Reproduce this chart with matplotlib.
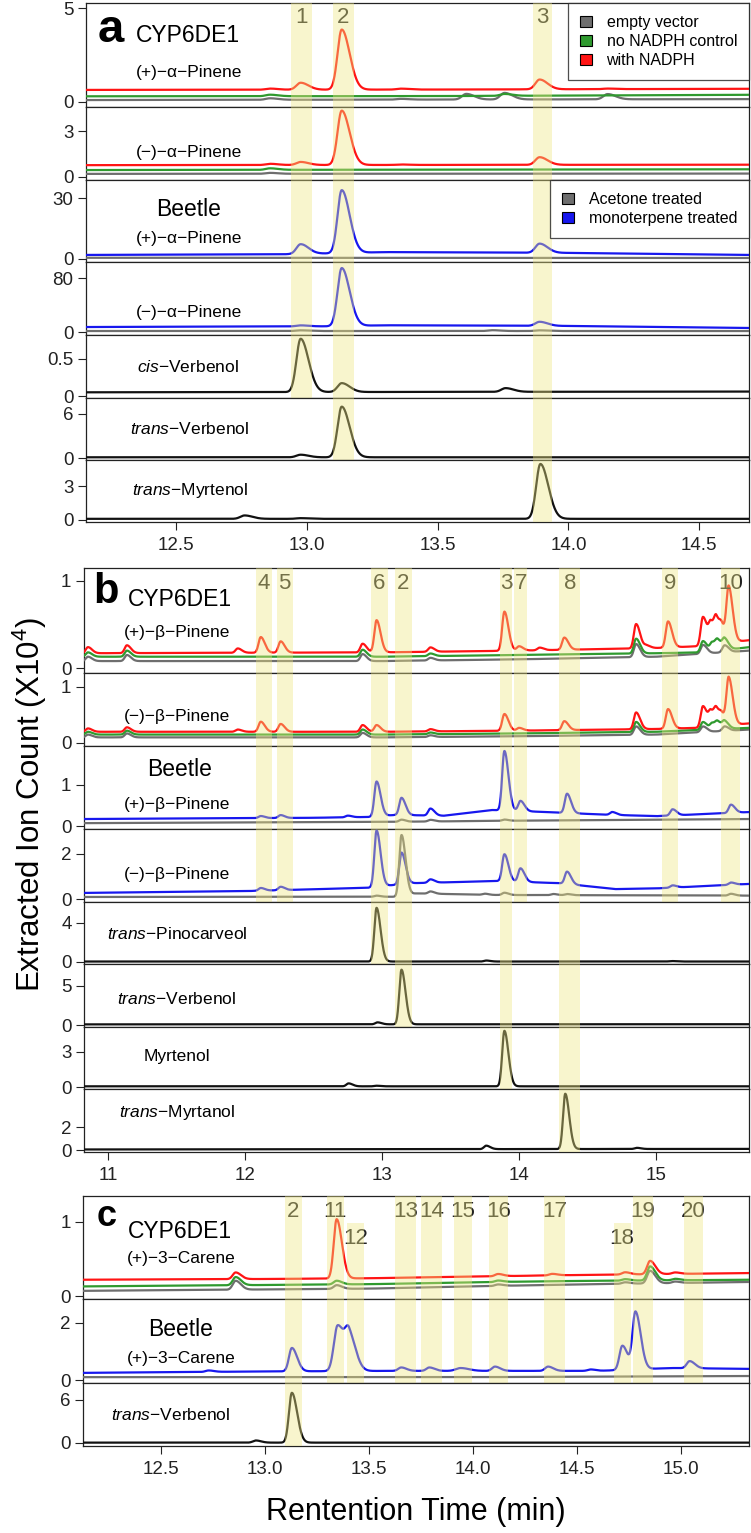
import numpy as np
import matplotlib
matplotlib.use("Agg")
import matplotlib.pyplot as plt
from matplotlib.patches import Rectangle

plt.rcParams['font.family'] = ['Liberation Sans', 'DejaVu Sans']
plt.rcParams['mathtext.fontset'] = 'custom'
plt.rcParams['mathtext.rm'] = 'Liberation Sans'
plt.rcParams['mathtext.it'] = 'Liberation Sans:italic'

W, H = 751, 1533

RED = '#ff1414'
GREEN = '#2f9a2f'
GRAY = '#6e6e6e'
BLUE = '#1717ee'
BLACK = '#111111'
BAND = '#eee682'

# ---------------- panel a : alpha-pinene ----------------
# baseline knots (rt, level) and peaks (rt, height above baseline[, width factor])
a1_red_base = [(12.157, 0.64), (13.5, 0.66), (14.69, 0.70)]
a1_red_peaks = [(12.86, 0.06), (12.977, 0.37), (13.134, 3.2), (13.36, 0.05), (13.89, 0.52), (14.15, 0.03)]
a1_green_base = [(12.157, 0.30), (13.5, 0.31), (14.69, 0.38)]
a1_green_peaks = [(12.86, 0.08), (13.756, 0.10)]
a1_gray_base = [(12.157, 0.10), (14.69, 0.15)]
a1_gray_peaks = [(12.86, 0.08), (13.36, 0.04), (13.61, 0.30), (13.756, 0.35), (14.15, 0.28)]

a2_red_base = [(12.157, 0.77), (14.69, 0.80)]
a2_red_peaks = [(12.86, 0.08), (12.977, 0.20), (13.134, 3.55), (13.36, 0.03), (13.89, 0.50)]
a2_green_base = [(12.157, 0.45), (14.69, 0.50)]
a2_green_peaks = [(12.86, 0.10)]
a2_gray_base = [(12.157, 0.20), (14.69, 0.22)]
a2_gray_peaks = [(12.86, 0.06)]

a3_blue_base = [(12.157, 2.0), (12.9, 2.3), (13.1, 2.8), (13.3, 3.4), (14.0, 3.0), (14.69, 2.0)]
a3_blue_peaks = [(12.977, 4.8), (13.134, 31.0), (13.89, 4.5)]
a3_gray_base = [(12.157, 0.6), (14.69, 0.5)]
a3_gray_peaks = []

a4_blue_base = [(12.157, 7.4), (13.1, 8.5), (13.3, 10.0), (14.0, 9.0), (14.69, 6.0)]
a4_blue_peaks = [(12.977, 1.5), (13.134, 86.0), (13.89, 6.0)]
a4_gray_base = [(12.157, 1.5), (14.69, 1.5)]
a4_gray_peaks = [(12.977, 1.0), (13.71, 1.2), (13.89, 1.0)]

a5_base = [(12.157, 0.05), (14.69, 0.06)]
a5_peaks = [(12.977, 0.72), (13.134, 0.12), (13.76, 0.05)]
a6_base = [(12.157, 0.10), (14.69, 0.10)]
a6_peaks = [(12.977, 0.35), (13.134, 6.9)]
a7_base = [(12.157, 0.10), (14.69, 0.10)]
a7_peaks = [(12.763, 0.30), (12.977, 0.06), (13.893, 4.85)]

a_bands = [("1", 12.939, 13.019, 5, False), ("2", 13.099, 13.179, 6, False),
           ("3", 13.863, 13.939, 7, False)]

# ---------------- panel b : beta-pinene ----------------
b1_red_base = [(10.82, 0.17), (13.0, 0.18), (14.0, 0.20), (15.0, 0.23), (15.3, 0.25), (15.68, 0.32)]
b1_red_peaks = [(10.854, 0.07), (11.138, 0.09), (11.947, 0.05), (12.115, 0.18), (12.26, 0.13),
                (12.858, 0.10), (12.96, 0.37), (13.353, 0.05), (13.893, 0.45), (14.0, 0.05),
                (14.15, 0.03), (14.33, 0.14), (14.854, 0.28), (14.93, 0.03), (15.087, 0.30),
                (15.342, 0.33), (15.40, 0.23), (15.44, 0.24), (15.48, 0.15), (15.53, 0.62)]
b1_green_base = [(10.82, 0.13), (13.0, 0.13), (14.0, 0.15), (15.0, 0.17), (15.35, 0.18), (15.68, 0.24)]
b1_green_peaks = [(10.854, 0.05), (11.138, 0.07), (12.858, 0.08), (13.353, 0.03), (14.854, 0.17),
                  (15.342, 0.13), (15.41, 0.10), (15.45, 0.10), (15.50, 0.12)]
b1_gray_base = [(10.82, 0.08), (13.0, 0.08), (14.0, 0.10), (15.0, 0.13), (15.68, 0.20)]
b1_gray_peaks = [(10.854, 0.05), (11.138, 0.07), (12.858, 0.08), (13.353, 0.03), (14.854, 0.15),
                 (15.342, 0.10), (15.50, 0.08)]

b2_red_base = [(10.82, 0.20), (13.0, 0.20), (14.0, 0.22), (15.0, 0.25), (15.3, 0.27), (15.68, 0.35)]
b2_red_peaks = [(10.854, 0.06), (11.138, 0.08), (11.947, 0.04), (12.115, 0.18), (12.26, 0.14),
                (12.858, 0.12), (12.96, 0.12), (13.353, 0.04), (13.893, 0.30), (14.0, 0.05),
                (14.33, 0.16), (14.854, 0.30), (15.087, 0.35), (15.342, 0.38), (15.40, 0.25),
                (15.44, 0.25), (15.48, 0.15), (15.53, 0.83)]
b2_green_base = [(10.82, 0.15), (13.0, 0.15), (14.0, 0.17), (15.0, 0.20), (15.68, 0.27)]
b2_green_peaks = [(10.854, 0.05), (11.138, 0.07), (12.858, 0.09), (13.353, 0.03), (14.854, 0.18),
                  (15.342, 0.14), (15.41, 0.11), (15.45, 0.11), (15.50, 0.13)]
b2_gray_base = [(10.82, 0.10), (13.0, 0.10), (14.0, 0.12), (15.0, 0.15), (15.68, 0.24)]
b2_gray_peaks = [(10.854, 0.05), (11.138, 0.07), (12.858, 0.08), (13.353, 0.03), (14.854, 0.15),
                 (15.342, 0.10), (15.50, 0.08)]

b3_blue_base = [(10.82, 0.17), (12.5, 0.20), (12.9, 0.22), (13.1, 0.27), (13.45, 0.25), (13.8, 0.39),
                (14.2, 0.34), (14.6, 0.28), (15.0, 0.24), (15.68, 0.34)]
b3_blue_peaks = [(12.115, 0.05), (12.26, 0.07), (12.75, 0.04), (12.96, 0.85), (13.142, 0.42),
                 (13.353, 0.17), (13.893, 1.45), (14.01, 0.25), (14.35, 0.47), (14.68, 0.07),
                 (15.12, 0.15), (15.546, 0.20)]
b3_gray_base = [(10.82, 0.07), (13.0, 0.10), (14.0, 0.13), (15.68, 0.17)]
b3_gray_peaks = [(13.142, 0.05), (13.353, 0.04), (13.893, 0.03)]

b4_blue_base = [(10.82, 0.27), (12.0, 0.35), (12.9, 0.50), (13.2, 0.70), (13.85, 0.80), (14.3, 0.70),
                (14.7, 0.44), (15.0, 0.47), (15.68, 0.67)]
b4_blue_peaks = [(12.115, 0.12), (12.26, 0.15), (12.96, 2.5), (13.142, 1.4), (13.353, 0.15),
                 (13.893, 1.2), (14.01, 0.6), (14.35, 0.55), (15.12, 0.10), (15.546, 0.10)]
b4_gray_base = [(10.82, 0.09), (13.1, 0.10), (13.25, 0.25), (13.8, 0.18), (15.68, 0.15)]
b4_gray_peaks = [(12.96, 0.05), (13.142, 2.7), (13.353, 0.10), (13.75, 0.05), (13.893, 0.10),
                 (14.25, 0.05), (14.35, 0.05), (15.546, 0.08)]

b5_base = [(10.82, 0.05), (15.68, 0.05)]
b5_peaks = [(12.96, 5.5), (13.76, 0.10), (15.11, 0.05)]
b6_base = [(10.82, 0.08), (15.68, 0.10)]
b6_peaks = [(12.967, 0.25), (13.142, 7.0)]
b7_base = [(10.82, 0.06), (15.68, 0.06)]
b7_peaks = [(12.756, 0.25), (12.96, 0.05), (13.893, 4.75)]
b8_base = [(10.82, 0.05), (15.68, 0.10)]
b8_peaks = [(13.76, 0.30), (14.337, 4.8), (14.86, 0.10)]

b_bands = [("4", 12.078, 12.195, 4, False), ("5", 12.231, 12.348, 4, False),
           ("6", 12.916, 13.047, 5, False), ("2", 13.091, 13.222, 6, False),
           ("3", 13.863, 13.951, 7, False), ("7", 13.965, 14.060, 4, False),
           ("8", 14.293, 14.446, 8, False), ("9", 15.044, 15.160, 4, False),
           ("10", 15.473, 15.610, 4, False)]

# ---------------- panel c : 3-carene ----------------
c1_red_base = [(12.127, 0.22), (13.0, 0.23), (13.5, 0.24), (14.4, 0.28), (15.325, 0.31)]
c1_red_peaks = [(12.86, 0.09), (13.345, 0.80), (14.12, 0.03), (14.38, 0.02), (14.73, 0.03),
                (14.85, 0.18), (14.97, 0.02)]
c1_green_base = [(12.127, 0.13), (13.5, 0.16), (14.35, 0.20), (15.325, 0.22)]
c1_green_peaks = [(12.86, 0.11), (13.345, 0.05), (14.12, 0.02), (14.73, 0.02), (14.85, 0.19),
                  (14.97, 0.02)]
c1_gray_base = [(12.127, 0.07), (13.5, 0.10), (14.35, 0.15), (15.325, 0.19)]
c1_gray_peaks = [(12.86, 0.12), (13.345, 0.05), (14.12, 0.02), (14.73, 0.02), (14.85, 0.17),
                 (14.97, 0.02)]

c2_blue_base = [(12.127, 0.25), (13.0, 0.30), (13.6, 0.32), (14.6, 0.32), (14.95, 0.42), (15.325, 0.39)]
c2_blue_peaks = [(12.73, 0.05), (13.13, 0.82), (13.35, 1.6, 1.3), (13.405, 1.15, 1.3),
                 (13.655, 0.12), (13.79, 0.12), (13.94, 0.10, 1.6), (14.105, 0.15), (14.36, 0.15),
                 (14.565, 0.05), (14.717, 0.85), (14.78, 2.0), (15.04, 0.25)]
c2_gray_base = [(12.127, 0.10), (14.0, 0.10), (15.325, 0.14)]
c2_gray_peaks = []

c3_base = [(12.127, 0.05), (15.325, 0.05)]
c3_peaks = [(12.957, 0.30), (13.13, 6.95)]

c_bands = [("2", 13.096, 13.177, 3, False), ("11", 13.297, 13.378, 2, False),
           ("12", 13.397, 13.478, 2, True), ("13", 13.627, 13.727, 2, False),
           ("14", 13.751, 13.852, 2, False), ("15", 13.909, 13.995, 2, False),
           ("16", 14.077, 14.167, 2, False), ("17", 14.340, 14.440, 2, False),
           ("18", 14.675, 14.756, 2, True), ("19", 14.766, 14.866, 2, False),
           ("20", 15.014, 15.105, 2, False)]


def trace(x, base, peaks, sl, sr):
    bx, by = zip(*base)
    y = np.interp(x, bx, by)
    for p in peaks:
        k = p[2] if len(p) > 2 else 1.0
        s = np.where(x < p[0], sl * k, sr * k)
        y = y + p[1] * np.exp(-0.5 * ((x - p[0]) / s) ** 2)
    return y


fig = plt.figure(figsize=(W / 100, H / 100), dpi=100)


def add_ax(left, right, top, bottom):
    return fig.add_axes([left / W, 1 - bottom / H, (right - left) / W, (bottom - top) / H])


def ftext(xp, yp, s, **kw):
    fig.text(xp / W, 1 - yp / H, s, ha='center', va='center', **kw)


def panel(edges, left, xlim, ylims, yticks, xticks, rows, bands, lab_y, low_top, low_y, widths):
    x = np.linspace(xlim[0], xlim[1], 3000)
    axes = []
    n = len(edges) - 1
    for i in range(n):
        ax = add_ax(left, 749, edges[i], edges[i + 1])
        ax.set_xlim(xlim)
        ax.set_ylim(ylims[i])
        ax.set_yticks(yticks[i])
        ax.set_yticklabels(['%g' % v for v in yticks[i]])
        ax.tick_params(axis='y', length=6, width=0.8, pad=3, labelsize=13.5, colors='#222222')
        if i < n - 1:
            ax.set_xticks([])
        else:
            ax.set_xticks(xticks[0])
            ax.set_xticklabels(xticks[1])
            ax.tick_params(axis='x', length=6, width=0.8, pad=5, labelsize=13.5, colors='#222222')
        for sp in ax.spines.values():
            sp.set_linewidth(0.9)
            sp.set_color('#222222')
        for base, peaks, col in rows[i]:
            ax.plot(x, trace(x, base, peaks, *widths), color=col, lw=1.6, zorder=3,
                    solid_joinstyle='round')
        axes.append(ax)
    for lab, x0, x1, depth, lower in bands:
        for i in range(depth):
            top = low_top if (i == 0 and lower) else 1.0
            axes[i].axvspan(x0, x1, ymin=0, ymax=top, color=BAND, alpha=0.4, lw=0, zorder=5)
        axes[0].text((x0 + x1) / 2, low_y if lower else lab_y, lab,
                     transform=axes[0].get_xaxis_transform(), ha='center', va='center',
                     fontsize=16, color='#222222', zorder=4)
    return axes


a_rows = [
    [(a1_gray_base, a1_gray_peaks, GRAY), (a1_green_base, a1_green_peaks, GREEN), (a1_red_base, a1_red_peaks, RED)],
    [(a2_gray_base, a2_gray_peaks, GRAY), (a2_green_base, a2_green_peaks, GREEN), (a2_red_base, a2_red_peaks, RED)],
    [(a3_blue_base, a3_blue_peaks, BLUE), (a3_gray_base, a3_gray_peaks, GRAY)],
    [(a4_blue_base, a4_blue_peaks, BLUE), (a4_gray_base, a4_gray_peaks, GRAY)],
    [(a5_base, a5_peaks, BLACK)],
    [(a6_base, a6_peaks, BLACK)],
    [(a7_base, a7_peaks, BLACK)],
]
axa = panel([3, 107, 180, 262, 335, 398, 460, 522], 86, (12.157, 14.69),
            [(-0.27, 5.27), (-0.2, 4.57), (-1.48, 38.9), (-4.4, 103.7), (-0.027, 0.824),
             (-0.27, 8.18), (-0.18, 5.3)],
            [[0, 5], [0, 3], [0, 30], [0, 80], [0, 0.5], [0, 6], [0, 3]],
            ([12.5, 13.0, 13.5, 14.0, 14.5], ['12.5', '13.0', '13.5', '14.0', '14.5']),
            a_rows, a_bands, 0.856, 1.0, 0.6, (0.016, 0.030))

b_rows = [
    [(b1_gray_base, b1_gray_peaks, GRAY), (b1_green_base, b1_green_peaks, GREEN), (b1_red_base, b1_red_peaks, RED)],
    [(b2_gray_base, b2_gray_peaks, GRAY), (b2_green_base, b2_green_peaks, GREEN), (b2_red_base, b2_red_peaks, RED)],
    [(b3_blue_base, b3_blue_peaks, BLUE), (b3_gray_base, b3_gray_peaks, GRAY)],
    [(b4_blue_base, b4_blue_peaks, BLUE), (b4_gray_base, b4_gray_peaks, GRAY)],
    [(b5_base, b5_peaks, BLACK)],
    [(b6_base, b6_peaks, BLACK)],
    [(b7_base, b7_peaks, BLACK)],
    [(b8_base, b8_peaks, BLACK)],
]
axb = panel([568, 673, 746, 829, 902, 964, 1027, 1089, 1152], 84, (10.825, 15.678),
            [(-0.057, 1.149), (-0.054, 1.25), (-0.073, 1.95), (-0.133, 3.11), (-0.205, 6.15),
             (-0.256, 7.82), (-0.17, 5.14), (-0.17, 5.3)],
            [[0, 1], [0, 1], [0, 1], [0, 2], [0, 4], [0, 5], [0, 3], [0, 2]],
            ([11, 12, 13, 14, 15], ['11', '12', '13', '14', '15']),
            b_rows, b_bands, 0.857, 1.0, 0.6, (0.016, 0.029))

c_rows = [
    [(c1_gray_base, c1_gray_peaks, GRAY), (c1_green_base, c1_green_peaks, GREEN), (c1_red_base, c1_red_peaks, RED)],
    [(c2_blue_base, c2_blue_peaks, BLUE), (c2_gray_base, c2_gray_peaks, GRAY)],
    [(c3_base, c3_peaks, BLACK)],
]
axc = panel([1196, 1299, 1383, 1446], 83, (12.127, 15.325),
            [(-0.04, 1.35), (-0.105, 2.84), (-0.42, 8.37)],
            [[0, 1], [0, 2], [0, 6]],
            ([12.5, 13.0, 13.5, 14.0, 14.5, 15.0], ['12.5', '13.0', '13.5', '14.0', '14.5', '15.0']),
            c_rows, c_bands, 0.845, 0.738, 0.592, (0.014, 0.025))

# legends
def legend(ax, labels, colors):
    handles = [Rectangle((0, 0), 1, 1, fc=c, ec='black', lw=0.8) for c in colors]
    leg = ax.legend(handles, labels, loc='upper right', bbox_to_anchor=(1, 1), fontsize=11.5,
                    frameon=True, fancybox=False, edgecolor='#222222', borderpad=0.75,
                    labelspacing=0.25, handlelength=0.75, handleheight=0.75, handletextpad=0.9,
                    borderaxespad=0)
    leg.get_frame().set_linewidth(0.9)
    leg.set_zorder(10)

legend(axa[0], ['empty vector', 'no NADPH control', 'with NADPH'], [GRAY, GREEN, RED])
legend(axa[2], ['Acetone treated', 'monoterpene treated'], [GRAY, BLUE])

# panel letters and labels
ftext(111, 30, 'a', fontsize=34, fontweight='bold')
ftext(188, 36, 'CYP6DE1', fontsize=16.5)
ftext(189, 73, '(+)\u2212\u03b1\u2212Pinene', fontsize=12.5)
ftext(189, 153, '(\u2212)\u2212\u03b1\u2212Pinene', fontsize=12.5)
ftext(189, 210, 'Beetle', fontsize=16.5)
ftext(189, 238, '(+)\u2212\u03b1\u2212Pinene', fontsize=12.5)
ftext(189, 313, '(\u2212)\u2212\u03b1\u2212Pinene', fontsize=12.5)
ftext(188, 367, r'$\it{cis}$' + '\u2212Verbenol', fontsize=12.5)
ftext(190, 429, r'$\it{trans}$' + '\u2212Verbenol', fontsize=12.5)
ftext(190, 491, r'$\it{trans}$' + '\u2212Myrtenol', fontsize=12.5)

ftext(106, 592, 'b', fontsize=30, fontweight='bold')
ftext(180, 600, 'CYP6DE1', fontsize=16.5)
ftext(177, 633, '(+)\u2212\u03b2\u2212Pinene', fontsize=12.5)
ftext(177, 717, '(\u2212)\u2212\u03b2\u2212Pinene', fontsize=12.5)
ftext(180, 770, 'Beetle', fontsize=16.5)
ftext(177, 805, '(+)\u2212\u03b2\u2212Pinene', fontsize=12.5)
ftext(177, 875, '(\u2212)\u2212\u03b2\u2212Pinene', fontsize=12.5)
ftext(177, 934, r'$\it{trans}$' + '\u2212Pinocarveol', fontsize=12.5)
ftext(177, 999, r'$\it{trans}$' + '\u2212Verbenol', fontsize=12.5)
ftext(177, 1057, 'Myrtenol', fontsize=12.5)
ftext(177, 1113, r'$\it{trans}$' + '\u2212Myrtanol', fontsize=12.5)

ftext(107, 1216, 'c', fontsize=26, fontweight='bold')
ftext(180, 1232, 'CYP6DE1', fontsize=16.5)
ftext(181, 1258, '(+)\u22123\u2212Carene', fontsize=12.5)
ftext(181, 1330, 'Beetle', fontsize=16.5)
ftext(181, 1359, '(+)\u22123\u2212Carene', fontsize=12.5)
ftext(171, 1415, r'$\it{trans}$' + '\u2212Verbenol', fontsize=12.5)

ftext(30, 805, 'Extracted Ion Count (X10$^4$)', fontsize=22.5, rotation=90)
ftext(416, 1512, 'Rentention Time (min)', fontsize=22)

fig.savefig('out.png', dpi=100)
